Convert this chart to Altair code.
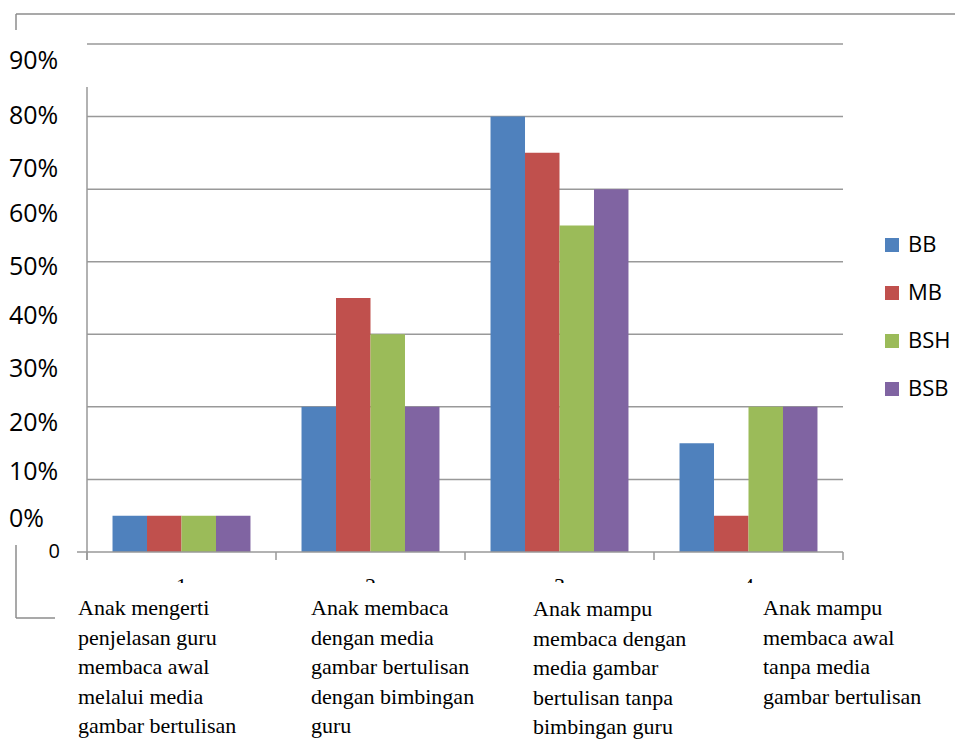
import altair as alt
import pandas as pd

# ---- data ----
categories = ["1", "2", "3", "4"]
series = ["BB", "MB", "BSH", "BSB"]
colors = ["#4F81BD", "#C0504D", "#9BBB59", "#8064A2"]
BB = [0.5, 2.0, 6.0, 1.5]
MB = [0.5, 3.5, 5.5, 0.5]
BSH = [0.5, 3.0, 4.5, 2.0]
BSB = [0.5, 2.0, 5.0, 2.0]

grid_values = [1, 2, 3, 4, 5, 6, 7]
# y-axis texts as printed (misaligned in the source), with their positions in value units
pct_labels = ["90%", "80%", "70%", "60%", "50%", "40%", "30%", "20%", "10%", "0%"]
pct_pos = [6.76, 6.01, 5.28, 4.66, 3.93, 3.25, 2.52, 1.78, 1.10, 0.45]
zero_label = ["0"]
zero_pos = [0.0]

descriptions = [
    "Anak mengerti\npenjelasan guru\nmembaca awal\nmelalui media\ngambar bertulisan",
    "Anak membaca\ndengan media\ngambar bertulisan\ndengan bimbingan\nguru",
    "Anak mampu\nmembaca dengan\nmedia gambar\nbertulisan tanpa\nbimbingan guru",
    "Anak mampu\nmembaca awal\ntanpa media\ngambar bertulisan",
]

rows = []
for name, vals in zip(series, [BB, MB, BSH, BSB]):
    for c, v in zip(categories, vals):
        rows.append({"cat": c, "series": name, "value": v})
df = pd.DataFrame(rows)

W, H = 756, 508
GRID = "#999999"
SANS = "Open Sans"
SERIF = "Liberation Serif"

x_scale = alt.Scale(domain=categories, paddingInner=0, paddingOuter=0)
y_scale = alt.Scale(domain=[0, 7], nice=False, zero=True)

one = pd.DataFrame({"k": [0]})
cat_df = pd.DataFrame({"cat": categories})

# horizontal grid lines
grid_df = pd.DataFrame({"value": grid_values})
grid = alt.Chart(grid_df).mark_rule(color=GRID, strokeWidth=1.5).encode(
    y=alt.Y("value:Q", scale=y_scale, axis=None), x=alt.value(0), x2=alt.value(W)
)

bars = alt.Chart(df).mark_bar().encode(
    x=alt.X("cat:N", scale=x_scale, sort=categories, axis=None),
    xOffset=alt.XOffset("series:N", sort=series,
                        scale=alt.Scale(domain=series, paddingInner=0, paddingOuter=0.74)),
    y=alt.Y("value:Q", scale=y_scale, axis=None),
    color=alt.Color("series:N", sort=series,
                    scale=alt.Scale(domain=series, range=colors),
                    legend=alt.Legend(title=None, orient="none", legendX=794, legendY=190,
                                      symbolType="square", symbolSize=196,
                                      symbolStrokeWidth=0, labelFont=SANS,
                                      labelFontSize=22, labelColor="black",
                                      labelOffset=5, rowPadding=26)),
)

# x axis: baseline, boundary ticks and category numbers
x_base = alt.Chart(one).mark_rule(color=GRID, strokeWidth=1.5).encode(
    x=alt.value(-10), x2=alt.value(W), y=alt.value(H)
)
x_ticks = alt.Chart(cat_df).mark_rule(color=GRID, strokeWidth=1.5).encode(
    x=alt.X("cat:N", scale=x_scale, sort=categories, bandPosition=0, axis=None),
    y=alt.value(H), y2=alt.value(H + 8)
)
x_tick_end = alt.Chart(one).mark_rule(color=GRID, strokeWidth=1.5).encode(
    x=alt.value(W), y=alt.value(H), y2=alt.value(H + 8)
)
x_nums = alt.Chart(cat_df).mark_text(
    align="center", baseline="alphabetic", font=SERIF, fontSize=22, color="black"
).encode(
    x=alt.X("cat:N", scale=x_scale, sort=categories, axis=None),
    y=alt.value(549), text="cat:N"
)
# white band that hides the lower part of the category numbers, as in the source
cover = alt.Chart(one).mark_rect(color="white").encode(
    x=alt.value(0), x2=alt.value(W), y=alt.value(539), y2=alt.value(556)
)

pct_df = pd.DataFrame({"label": pct_labels, "value": pct_pos})
pct_text = alt.Chart(pct_df).mark_text(
    align="left", baseline="middle", font=SANS, fontSize=25, color="black"
).encode(
    x=alt.value(-78), y=alt.Y("value:Q", scale=y_scale, axis=None), text="label:N"
)

zero_df = pd.DataFrame({"label": zero_label, "value": zero_pos})
zero_text = alt.Chart(zero_df).mark_text(
    align="right", baseline="middle", font=SANS, fontSize=20, color="black"
).encode(
    x=alt.value(-27), y=alt.Y("value:Q", scale=y_scale, axis=None), text="label:N"
)

# y axis line (starts below the top grid line)
y_line = alt.Chart(one).mark_rule(color=GRID, strokeWidth=1.5).encode(
    x=alt.value(0), y=alt.value(43), y2=alt.value(H + 8)
)

# outer frame fragments
FRAME = "#8c8c8c"
frame_top = alt.Chart(one).mark_rule(color=FRAME, strokeWidth=1.5).encode(
    x=alt.value(-71), x2=alt.value(880), y=alt.value(-30)
)
frame_lt = alt.Chart(one).mark_rule(color=FRAME, strokeWidth=1.5).encode(
    x=alt.value(-71), y=alt.value(-30), y2=alt.value(-14)
)
frame_lb = alt.Chart(one).mark_rule(color=FRAME, strokeWidth=1.5).encode(
    x=alt.value(-71), y=alt.value(501), y2=alt.value(574)
)
frame_bb = alt.Chart(one).mark_rule(color=FRAME, strokeWidth=1.5).encode(
    x=alt.value(-71), x2=alt.value(-32), y=alt.value(574)
)

desc_dx = [-103.5, -59.5, -26.5, 14.5]
desc_dy = [0, 0, 1, 0]
desc_layers = []
for c, txt, dx, dy in zip(categories, descriptions, desc_dx, desc_dy):
    d = pd.DataFrame({"cat": [c], "txt": [txt]})
    desc_layers.append(
        alt.Chart(d).mark_text(
            align="left", baseline="alphabetic", font=SERIF, fontSize=22,
            lineBreak="\n", lineHeight=29.5, color="black", dx=dx, dy=dy
        ).encode(
            x=alt.X("cat:N", scale=x_scale, sort=categories, axis=None),
            y=alt.value(571),
            text="txt:N",
        )
    )

chart = alt.layer(
    grid, bars, x_base, x_ticks, x_tick_end, x_nums, cover, pct_text, zero_text, y_line,
    frame_top, frame_lt, frame_lb, frame_bb, *desc_layers
).properties(
    width=W, height=H,
    autosize=alt.AutoSizeParams(type="none"),
    padding={"left": 79, "top": 36, "right": 112, "bottom": 189},
).configure_view(strokeWidth=0)

chart.save("out.html", embed_options={"renderer": "svg", "actions": False})
